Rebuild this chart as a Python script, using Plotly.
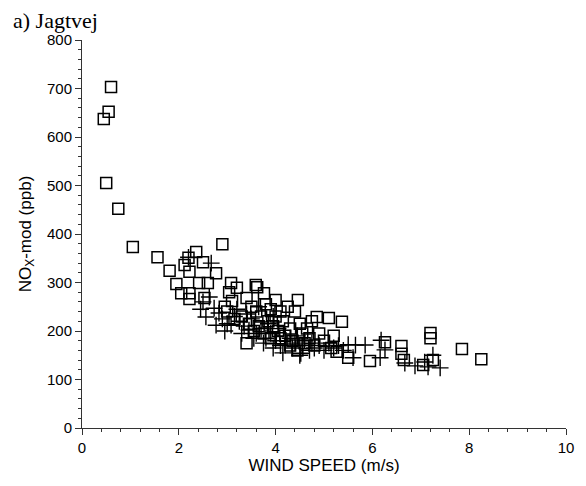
import plotly.graph_objects as go

sq_x = [0.45, 0.55, 0.6, 0.5, 0.75, 1.05, 1.56, 1.81, 1.95, 2.05, 2.12, 2.2, 2.22, 2.22, 2.22, 2.36, 2.42, 2.5, 2.53, 2.6,
        2.77, 2.9, 3.04, 3.08, 3.1, 3.2, 3.4, 3.4, 3.59, 3.62, 3.76, 3.5, 3.6, 3.7, 3.8, 3.85, 3.9, 3.95, 4.0, 4.0,
        4.05, 4.1, 4.15, 4.2, 4.25, 4.3, 4.35, 4.4, 4.46, 4.5, 4.55, 4.6, 4.65, 4.7, 4.75, 4.8, 4.85, 4.9, 5.0, 5.1,
        5.15, 5.2, 5.26, 5.37, 5.5, 5.95, 6.26, 6.6, 6.6, 6.65, 7.05, 7.2, 7.2, 7.25, 7.85, 8.25, 3.3, 3.45, 3.65, 3.75,
        3.55, 3.0, 3.15, 2.95, 4.1, 4.3, 3.9, 4.45]
sq_y = [637, 652, 703, 505, 452, 373, 352, 324, 297, 278, 336, 351, 322, 278, 266, 363, 299, 342, 268, 299,
        319, 379, 280, 299, 262, 289, 268, 175, 295, 290, 278, 250, 240, 230, 255, 220, 245, 210, 264, 230,
        200, 240, 220, 190, 250, 205, 180, 240, 264, 215, 195, 175, 205, 185, 220, 170, 229, 195, 180, 227,
        165, 190, 157, 219, 145, 138, 177, 169, 153, 140, 130, 196, 185, 140, 163, 142, 230, 215, 210, 195,
        200, 240, 225, 250, 185, 170, 185, 160]

cr_x = [2.2, 2.67, 2.63, 2.73, 2.56, 2.83, 2.77, 2.9, 3.0, 3.08, 3.15, 3.25, 3.35, 3.45, 3.5, 3.6, 3.7, 3.8, 3.85, 3.9,
        4.0, 4.05, 4.1, 4.2, 4.2, 4.3, 4.35, 4.4, 4.5, 4.52, 4.55, 4.6, 4.7, 4.75, 4.8, 4.9, 5.0, 5.1, 5.2, 5.3,
        5.4, 5.5, 5.6, 5.65, 5.85, 6.16, 6.18, 6.26, 6.67, 6.88, 7.08, 7.15, 7.25, 7.4, 3.3, 3.55, 3.75, 3.95, 2.95, 3.2,
        3.4, 2.5, 2.45, 3.65, 3.95, 4.15, 4.45]
cr_y = [352, 340, 270, 247, 229, 237, 212, 225, 215, 212, 230, 220, 210, 202, 225, 195, 205, 185, 215, 195,
        180, 205, 170, 171, 190, 185, 165, 175, 150, 154, 170, 180, 160, 175, 165, 170, 160, 175, 165, 170,
        160, 172, 145, 171, 171, 145, 181, 161, 134, 128, 136, 126, 150, 124, 195, 185, 175, 165, 200, 245,
        235, 260, 245, 250, 230, 155, 190]

x_ticks = [0, 2, 4, 6, 8, 10]
y_ticks = [0, 100, 200, 300, 400, 500, 600, 700, 800]

fig = go.Figure()
fig.add_trace(go.Scatter(x=cr_x, y=cr_y, mode="markers",
                         marker=dict(symbol="cross-thin-open", size=12, color="black",
                                     line=dict(color="black", width=1.4)),
                         showlegend=False))
fig.add_trace(go.Scatter(x=sq_x, y=sq_y, mode="markers",
                         marker=dict(symbol="square-open", size=11, color="black",
                                     line=dict(color="black", width=1.5)),
                         showlegend=False))

axis_common = dict(showgrid=False, zeroline=False, showline=True, linecolor="#333",
                   linewidth=1, ticks="outside", ticklen=6, tickcolor="#333",
                   tickfont=dict(family="Liberation Sans", size=15, color="black"))

fig.update_xaxes(range=[0, 10], tickvals=x_ticks, ticktext=[str(v) for v in x_ticks],
                 minor=dict(dtick=0.4, ticks="outside", ticklen=3, tickcolor="#333", tick0=0),
                 title=dict(text="WIND SPEED (m/s)", font=dict(family="Liberation Sans", size=17, color="black"),
                            standoff=2),
                 **axis_common)
fig.update_yaxes(range=[0, 800], tickvals=y_ticks, ticktext=[str(v) for v in y_ticks],
                 minor=dict(dtick=20, ticks="outside", ticklen=3, tickcolor="#333", tick0=0),
                 title=dict(text="NO<sub>X</sub>-mod (ppb)", font=dict(family="Liberation Sans", size=17, color="black"),
                            standoff=11),
                 **axis_common)

fig.add_annotation(text="a) Jagtvej", xref="paper", yref="paper", x=-0.146, y=1.051,
                   xanchor="left", yanchor="middle", showarrow=False,
                   font=dict(family="Liberation Serif", size=22, color="black"))

fig.update_layout(width=578, height=478, margin=dict(l=74, r=17, t=32, b=58),
                  plot_bgcolor="white", paper_bgcolor="white")

fig.write_html("out.html")
